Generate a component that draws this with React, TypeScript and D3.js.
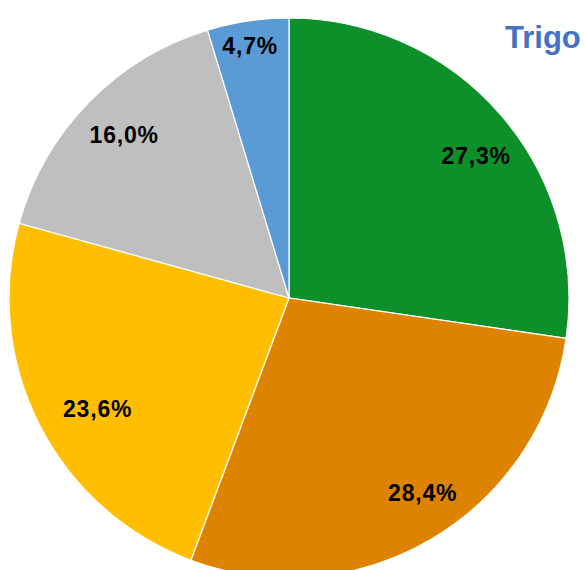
import React from "react";
import * as d3 from "d3";

const categories = ["A", "B", "C", "D", "E"];
const values = [27.3, 28.4, 23.6, 16.0, 4.7];
const labels = ["27,3%", "28,4%", "23,6%", "16,0%", "4,7%"];
const colors = ["#0D8F2A", "#DD8300", "#FFBF00", "#BFBFBF", "#5B9BD5"];
// label placement: radius factor and angular shift (degrees) relative to slice middle
const labelRadiusFactor = [0.839, 0.843, 0.79, 0.828, 0.911];
const labelAngleShift = [3.7, -3.9, -3.1, 0.4, -0.3];

const W = 585;
const H = 570;
const cx = 289;
const cy = 298;
const R = 280;

export default function App() {
  const pie = d3.pie<number>().sort(null).value((d) => d);
  const arcs = pie(values);
  const arcGen = d3.arc<d3.PieArcDatum<number>>().innerRadius(0).outerRadius(R);

  return (
    <svg
      width={W}
      height={H}
      style={{ position: "absolute", left: 0, top: 0, background: "#fff" }}
      fontFamily="'Liberation Sans', Arial, sans-serif"
    >
      <g transform={`translate(${cx},${cy})`}>
        {arcs.map((a, i) => (
          <path
            key={categories[i]}
            d={arcGen(a) || ""}
            fill={colors[i]}
            stroke="#fff"
            strokeWidth={1.2}
          />
        ))}
        {arcs.map((a, i) => {
          const mid = (a.startAngle + a.endAngle) / 2 + (labelAngleShift[i] * Math.PI) / 180;
          const r = R * labelRadiusFactor[i];
          const x = Math.sin(mid) * r;
          const y = -Math.cos(mid) * r;
          return (
            <text
              key={"l" + i}
              x={x}
              y={y}
              textAnchor="middle"
              dominantBaseline="central"
              fontSize={23}
              fontWeight="bold"
              letterSpacing={0.8}
              fill="#000"
            >
              {labels[i]}
            </text>
          );
        })}
      </g>
      <text x={505} y={48} fontSize={31} fontWeight="bold" fill="#4472C4">
        Trigo
      </text>
    </svg>
  );
}
